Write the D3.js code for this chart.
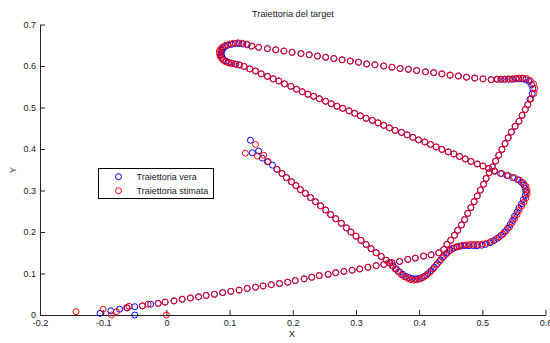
<!DOCTYPE html>
<html>
<head>
<meta charset="utf-8">
<script src="https://cdn.jsdelivr.net/npm/d3@7"></script>
<style>
  body { margin: 0; background: #fff; }
  svg { display: block; font-family: "Liberation Sans", Arial, Helvetica, sans-serif; }
</style>
</head>
<body>
<svg id="chart" width="550" height="343"></svg>
<script>
// Axis ticks
const xTicks = [-0.2, -0.1, 0, 0.1, 0.2, 0.3, 0.4, 0.5, 0.6];
const xTickLabels = ["-0.2", "-0.1", "0", "0.1", "0.2", "0.3", "0.4", "0.5", "0.6"];
const yTicks = [0, 0.1, 0.2, 0.3, 0.4, 0.5, 0.6, 0.7];
const yTickLabels = ["0", "0.1", "0.2", "0.3", "0.4", "0.5", "0.6", "0.7"];

// Series names
const seriesNames = ["Traiettoria vera", "Traiettoria stimata"];

// Start of the track (true vs estimated, still converging)
const startTrue = [[-0.105,0.004],[-0.088,0.010],[-0.074,0.014],[-0.062,0.017],[-0.050,0.020],[-0.050,0.000],[-0.038,0.022],[-0.025,0.026],[-0.013,0.028]];
const startEst = [[-0.143,0.008],[-0.100,0.014],[-0.087,0.000],[-0.079,0.008],[-0.063,0.018],[-0.059,0.021],[-0.038,0.022],[-0.029,0.026],[-0.013,0.028],[0.000,0.000]];

// Long climb: shallow stretch, then the steep stretch (both series coincide)
const climbLine = [[-0.002,0.031],[0.012,0.034],[0.025,0.038],[0.038,0.041],[0.051,0.044],[0.063,0.047],[0.076,0.050],[0.089,0.054],[0.102,0.057],[0.115,0.060],[0.128,0.064],[0.141,0.067],[0.153,0.070],[0.166,0.073],[0.179,0.076],[0.192,0.079],[0.204,0.083],[0.218,0.087],[0.230,0.091],[0.242,0.095],[0.256,0.098],[0.268,0.102],[0.281,0.105],[0.294,0.108],[0.306,0.111],[0.319,0.115],[0.332,0.119],[0.344,0.122],[0.357,0.126],[0.369,0.129],[0.382,0.134],[0.394,0.137],[0.407,0.142],[0.419,0.145],[0.431,0.150],
  [0.439,0.158],[0.444,0.170],[0.450,0.180],[0.456,0.192],[0.461,0.204],[0.467,0.217],[0.472,0.230],[0.477,0.245],[0.482,0.259],[0.487,0.273],[0.492,0.287],[0.497,0.301],[0.502,0.315],[0.506,0.329],[0.511,0.343],[0.516,0.357],[0.521,0.371],[0.526,0.385],[0.531,0.399],[0.536,0.413],[0.541,0.427],[0.546,0.441],[0.552,0.455],[0.558,0.467],[0.563,0.481],[0.568,0.495],[0.572,0.507]];

// Upper-right turn
const cornerNETrue = [[0.5755,0.520],[0.579,0.533],[0.580,0.545],[0.578,0.555],[0.574,0.563],[0.569,0.567],[0.564,0.569],[0.558,0.569],[0.553,0.569],[0.548,0.568],[0.543,0.568],[0.536,0.568],[0.530,0.568],[0.524,0.568]];
const cornerNEEst = [[0.577,0.521],[0.582,0.534],[0.583,0.546],[0.581,0.557],[0.576,0.565],[0.570,0.570],[0.564,0.571],[0.558,0.571],[0.553,0.570],[0.547,0.569],[0.541,0.569],[0.535,0.568],[0.529,0.568],[0.523,0.568]];

// Top stretch heading left
const topLine = [[0.514,0.567],[0.501,0.569],[0.488,0.571],[0.475,0.573],[0.462,0.576],[0.449,0.578],[0.436,0.581],[0.423,0.584],[0.410,0.586],[0.396,0.589],[0.383,0.592],[0.370,0.594],[0.357,0.597],[0.344,0.600],[0.330,0.603],[0.317,0.605],[0.304,0.609],[0.291,0.612],[0.278,0.615],[0.265,0.618],[0.252,0.621],[0.239,0.624],[0.226,0.627],[0.213,0.630],[0.199,0.633],[0.186,0.636],[0.173,0.639],[0.160,0.642],[0.146,0.645],[0.135,0.648]];

// Upper-left hairpin
const loopTrue = [[0.128,0.651],[0.121,0.653],[0.115,0.654],[0.109,0.654],[0.103,0.652],[0.097,0.650],[0.093,0.647],[0.090,0.643],[0.088,0.638],[0.087,0.633],[0.087,0.627],[0.088,0.621],[0.090,0.616],[0.094,0.612],[0.098,0.609],[0.103,0.607],[0.109,0.605],[0.115,0.603]];
const loopEst = [[0.127,0.653],[0.120,0.655],[0.113,0.656],[0.106,0.655],[0.100,0.653],[0.094,0.650],[0.089,0.646],[0.086,0.641],[0.084,0.636],[0.084,0.630],[0.085,0.624],[0.087,0.619],[0.090,0.614],[0.094,0.610],[0.099,0.607],[0.104,0.606],[0.110,0.604],[0.116,0.602]];

// Long descent towards the right-hand turn
const descentLine = [[0.123,0.599],[0.132,0.593],[0.141,0.588],[0.150,0.581],[0.160,0.575],[0.169,0.569],[0.178,0.564],[0.187,0.557],[0.197,0.551],[0.206,0.544],[0.215,0.538],[0.224,0.532],[0.233,0.527],[0.242,0.521],[0.252,0.515],[0.261,0.509],[0.270,0.503],[0.279,0.498],[0.289,0.492],[0.298,0.486],[0.307,0.480],[0.316,0.474],[0.326,0.469],[0.335,0.463],[0.344,0.457],[0.353,0.451],[0.362,0.445],[0.372,0.440],[0.381,0.434],[0.390,0.428],[0.399,0.422],[0.409,0.417],[0.418,0.411],[0.427,0.405],[0.436,0.399],[0.446,0.393],[0.455,0.388],[0.464,0.382],[0.473,0.376],[0.482,0.370],[0.492,0.364],[0.501,0.359],[0.510,0.353]];

// Right-hand turn, drop and plateau
const cornerETrue = [[0.519,0.347],[0.529,0.341],[0.539,0.336],[0.548,0.331],[0.556,0.326],[0.562,0.320],[0.566,0.313],[0.568,0.305],[0.569,0.297],[0.568,0.288],[0.565,0.278],[0.562,0.268],[0.558,0.258],[0.555,0.248],[0.551,0.238],[0.548,0.228],[0.544,0.218],[0.540,0.209],[0.535,0.200],[0.530,0.192],[0.524,0.185],[0.518,0.179],[0.512,0.174],[0.505,0.170],[0.499,0.168],[0.492,0.167],[0.486,0.167],[0.479,0.167],[0.473,0.167],[0.466,0.166]];
const cornerEEst = [[0.520,0.346],[0.531,0.341],[0.541,0.336],[0.551,0.331],[0.559,0.325],[0.565,0.318],[0.569,0.310],[0.571,0.301],[0.571,0.292],[0.569,0.282],[0.566,0.272],[0.562,0.262],[0.558,0.252],[0.555,0.242],[0.551,0.232],[0.547,0.222],[0.543,0.212],[0.538,0.203],[0.533,0.195],[0.527,0.188],[0.521,0.182],[0.514,0.177],[0.507,0.173],[0.500,0.171],[0.493,0.170],[0.487,0.170],[0.481,0.170],[0.475,0.169],[0.469,0.168],[0.463,0.166]];

// Valley
const valleyTrue = [[0.460,0.164],[0.455,0.161],[0.449,0.156],[0.444,0.149],[0.439,0.141],[0.434,0.133],[0.429,0.124],[0.424,0.115],[0.419,0.107],[0.414,0.100],[0.409,0.094],[0.404,0.090],[0.399,0.088],[0.394,0.087],[0.389,0.088],[0.384,0.090],[0.379,0.093],[0.374,0.098],[0.369,0.104],[0.364,0.111],[0.359,0.118],[0.354,0.125]];
const valleyEst = [[0.458,0.164],[0.452,0.160],[0.447,0.153],[0.442,0.146],[0.437,0.138],[0.432,0.129],[0.427,0.120],[0.422,0.111],[0.417,0.103],[0.412,0.096],[0.407,0.091],[0.402,0.087],[0.397,0.085],[0.392,0.084],[0.387,0.085],[0.382,0.088],[0.377,0.092],[0.372,0.097],[0.367,0.104],[0.362,0.111],[0.357,0.119],[0.352,0.126]];

// Return leg up to the left
const returnLine = [[0.348,0.132],[0.340,0.141],[0.332,0.150],[0.324,0.160],[0.316,0.170],[0.308,0.180],[0.300,0.190],[0.292,0.200],[0.285,0.210],[0.277,0.221],[0.268,0.232],[0.260,0.242],[0.252,0.253],[0.244,0.263],[0.236,0.273],[0.228,0.283],[0.220,0.293],[0.212,0.302],[0.205,0.312],[0.198,0.321],[0.190,0.331],[0.183,0.341],[0.175,0.351]];

// Final points
const endTrue = [[0.168,0.361],[0.160,0.369],[0.152,0.378],[0.146,0.395],[0.136,0.391],[0.133,0.421]];
const endEst = [[0.161,0.370],[0.154,0.385],[0.144,0.383],[0.125,0.390],[0.141,0.411]];

const trueTrack = [].concat(startTrue, climbLine, cornerNETrue, topLine, loopTrue, descentLine, cornerETrue, valleyTrue, returnLine, endTrue);
const estTrack = [].concat(startEst, climbLine, cornerNEEst, topLine, loopEst, descentLine, cornerEEst, valleyEst, returnLine, endEst);

const colors = ["#0000ff", "#ff0000"];
const ink = "#222";

const svg = d3.select("#chart");
const x = d3.scaleLinear().domain([-0.2, 0.6]).range([40, 545.5]);
const y = d3.scaleLinear().domain([0, 0.7]).range([315, 24.5]);

// Axes (box off, ticks pointing inward)
const gx = svg.append("g").attr("transform", "translate(0,315)")
  .call(d3.axisBottom(x).tickValues(xTicks).tickFormat((d, i) => xTickLabels[i])
    .tickSize(-5).tickSizeOuter(0).tickPadding(5));
const gy = svg.append("g").attr("transform", "translate(40,0)")
  .call(d3.axisLeft(y).tickValues(yTicks).tickFormat((d, i) => yTickLabels[i])
    .tickSize(-5).tickSizeOuter(0).tickPadding(4));
[gx, gy].forEach(g => {
  g.selectAll("path, line").attr("stroke", ink);
  g.selectAll("text").attr("fill", ink).style("font-size", "9px");
  g.attr("font-family", null);
});

// Markers
const series = [trueTrack, estTrack];
series.forEach((pts, k) => {
  svg.append("g").selectAll("circle").data(pts).join("circle")
    .attr("cx", d => x(d[0])).attr("cy", d => y(d[1])).attr("r", 3)
    .attr("fill", "none").attr("stroke", colors[k]).attr("stroke-width", 1);
});

// Title and axis labels
svg.append("text").attr("x", 293).attr("y", 17).attr("text-anchor", "middle")
  .attr("fill", ink).style("font-size", "9.2px").text("Traiettoria del target");
svg.append("text").attr("x", 292).attr("y", 336.5).attr("text-anchor", "middle")
  .attr("fill", ink).style("font-size", "9.5px").text("X");
svg.append("text").attr("transform", "translate(16,170) rotate(-90)").attr("text-anchor", "middle")
  .attr("fill", ink).style("font-size", "9.5px").text("Y");

// Legend
const lg = svg.append("g");
lg.append("rect").attr("x", 98.5).attr("y", 168.5).attr("width", 115).attr("height", 30)
  .attr("fill", "#fff").attr("stroke", "#000").attr("stroke-width", 1);
seriesNames.forEach((name, k) => {
  const cy = 176.7 + k * 14;
  lg.append("circle").attr("cx", 118.5).attr("cy", cy).attr("r", 3)
    .attr("fill", "none").attr("stroke", colors[k]).attr("stroke-width", 1);
  lg.append("text").attr("x", 136.5).attr("y", cy + 3.3).attr("fill", ink)
    .style("font-size", "9px").text(name);
});
</script>
</body>
</html>
